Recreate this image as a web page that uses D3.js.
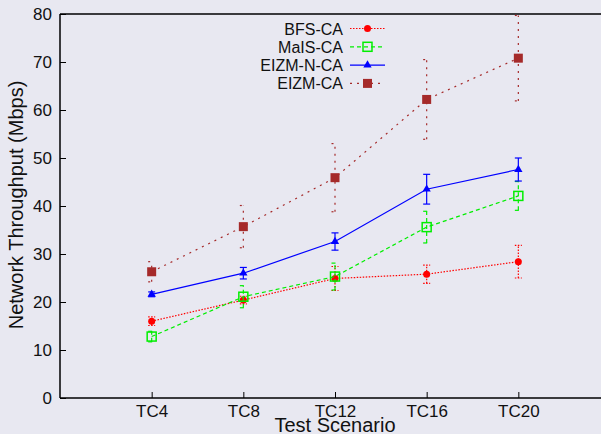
<!DOCTYPE html>
<html>
<head>
<meta charset="utf-8">
<script src="https://cdn.jsdelivr.net/npm/d3@7"></script>
<style>
  html, body { margin: 0; padding: 0; background: #e8e8f1; }
  svg { display: block; font-family: "Liberation Sans", Arial, sans-serif; }
</style>
</head>
<body>
<svg id="chart" width="601" height="434"></svg>
<script>
// Test scenarios on the x axis
const scenarios = ["TC4", "TC8", "TC12", "TC16", "TC20"];
const yTicks = [0, 10, 20, 30, 40, 50, 60, 70, 80];

// Mean throughput (Mbps) and error half-widths per scenario
const bfsMean   = [16.0, 20.4, 24.9, 25.8, 28.4];
const bfsErr    = [0.9, 0.8, 2.5, 1.9, 3.4];
const maisMean  = [12.8, 21.1, 25.3, 35.6, 42.1];
const maisErr   = [1.1, 2.3, 2.8, 3.3, 3.0];
const eizmnMean = [21.6, 26.0, 32.6, 43.5, 47.6];
const eizmnErr  = [0.5, 1.2, 1.8, 3.1, 2.4];
const eizmMean  = [26.3, 35.7, 45.9, 62.2, 70.8];
const eizmErr   = [2.1, 4.4, 7.1, 8.3, 8.9];

const seriesNames = ["BFS-CA", "MaIS-CA", "EIZM-N-CA", "EIZM-CA"];

const series = [
  { name: seriesNames[0], mean: bfsMean,   err: bfsErr,   color: "#ff0000", dash: "1.5,1.5", marker: "circle" },
  { name: seriesNames[1], mean: maisMean,  err: maisErr,  color: "#00ee00", dash: "4,3",     marker: "openSquare" },
  { name: seriesNames[2], mean: eizmnMean, err: eizmnErr, color: "#0000ff", dash: null,      marker: "triangle" },
  { name: seriesNames[3], mean: eizmMean,  err: eizmErr,  color: "#a52a2a", dash: "2,5",     marker: "square" }
];

const svg = d3.select("#chart");
const margin = { left: 60, top: 14, bottom: 398 };

// Scenario index 1..5 on a 0..6 domain; the right edge runs past the window
const x = d3.scaleLinear().domain([0, 6]).range([margin.left, 610]);
const y = d3.scaleLinear().domain([0, 80]).range([margin.bottom, margin.top]);

// Axes with inward ticks
const yAxis = d3.axisLeft(y).tickValues(yTicks).tickSize(-6).tickPadding(8);
const gy = svg.append("g").attr("transform", `translate(${margin.left},0)`).call(yAxis);

const xAxis = d3.axisBottom(x).tickValues(d3.range(1, 6))
  .tickFormat(i => scenarios[i - 1]).tickSize(-6).tickPadding(7);
const gx = svg.append("g").attr("transform", `translate(0,${margin.bottom})`).call(xAxis);

[gx, gy].forEach(g => {
  g.select(".domain").attr("stroke", "#000").attr("stroke-width", 1.5);
  g.selectAll(".tick line").attr("stroke", "#000").attr("stroke-width", 1);
  g.selectAll(".tick text").attr("fill", "#111").style("font-size", "17px")
    .style("font-family", "'Liberation Sans', Arial, sans-serif");
});
gx.select(".domain").attr("d", `M${margin.left},0H610`);
gy.select(".domain").attr("d", `M0,${margin.bottom}V${margin.top}`);

// top border
svg.append("line").attr("x1", margin.left).attr("x2", 610)
  .attr("y1", margin.top).attr("y2", margin.top)
  .attr("stroke", "#000").attr("stroke-width", 1.5);

// Axis titles
svg.append("text").attr("x", 335).attr("y", 432).attr("text-anchor", "middle")
  .style("font-size", "20px").attr("fill", "#111").text("Test Scenario");
svg.append("text").attr("transform", "translate(23,205) rotate(-90)")
  .attr("text-anchor", "middle").style("font-size", "20px").attr("fill", "#111")
  .text("Network Throughput (Mbps)");

function drawMarker(g, type, color, cx, cy) {
  if (type === "circle") {
    g.append("circle").attr("cx", cx).attr("cy", cy).attr("r", 3.5).attr("fill", color);
  } else if (type === "openSquare") {
    g.append("rect").attr("x", cx - 4.5).attr("y", cy - 4.5).attr("width", 9).attr("height", 9)
      .attr("fill", "none").attr("stroke", color).attr("stroke-width", 1.5);
  } else if (type === "square") {
    g.append("rect").attr("x", cx - 4.5).attr("y", cy - 4.5).attr("width", 9).attr("height", 9)
      .attr("fill", color);
  } else if (type === "triangle") {
    g.append("path").attr("d", d3.symbol(d3.symbolTriangle, 30)())
      .attr("transform", `translate(${cx},${cy})`).attr("fill", color);
  }
}

const plot = svg.append("g");
series.forEach(s => {
  const g = plot.append("g");
  const line = d3.line().x((d, i) => x(i + 1)).y(d => y(d));
  g.append("path").datum(s.mean).attr("d", line)
    .attr("fill", "none").attr("stroke", s.color).attr("stroke-width", 1.2)
    .attr("stroke-dasharray", s.dash);
  s.mean.forEach((m, i) => {
    const cx = x(i + 1);
    const lo = y(m - s.err[i]), hi = y(m + s.err[i]);
    const eb = g.append("g").attr("stroke", s.color).attr("stroke-width", 1.2)
      .attr("stroke-dasharray", s.dash);
    eb.append("line").attr("x1", cx).attr("x2", cx).attr("y1", lo).attr("y2", hi);
    eb.append("line").attr("x1", cx - 3.5).attr("x2", cx + 3.5).attr("y1", lo).attr("y2", lo);
    eb.append("line").attr("x1", cx - 3.5).attr("x2", cx + 3.5).attr("y1", hi).attr("y2", hi);
    drawMarker(g, s.marker, s.color, cx, y(m));
  });
});

// Legend
const legend = svg.append("g");
series.forEach((s, i) => {
  const ly = 28.5 + i * 18.3;
  legend.append("text").attr("x", 343).attr("y", ly + 6).attr("text-anchor", "end")
    .style("font-size", "16px").attr("fill", "#111").text(s.name);
  legend.append("line").attr("x1", 350).attr("x2", 385).attr("y1", ly).attr("y2", ly)
    .attr("stroke", s.color).attr("stroke-width", 1.2).attr("stroke-dasharray", s.dash);
  drawMarker(legend, s.marker, s.color, 367.5, ly);
});
</script>
</body>
</html>
